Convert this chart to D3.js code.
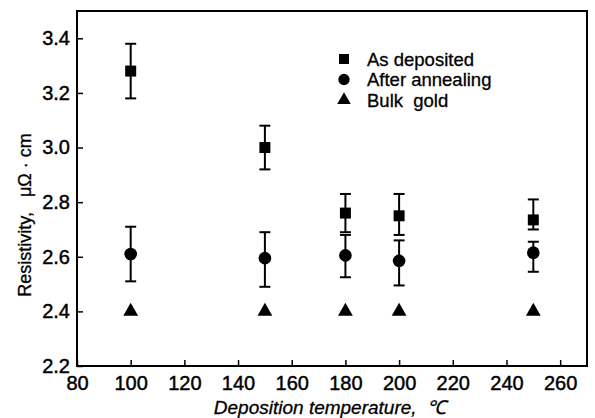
<!DOCTYPE html>
<html>
<head>
<meta charset="utf-8">
<script src="https://cdn.jsdelivr.net/npm/d3@7"></script>
<style>
  body { margin: 0; background: #fff; }
  text { font-family: "Liberation Sans", Arial, sans-serif; fill: #000; white-space: pre; }
</style>
</head>
<body>
<svg id="chart" width="595" height="418"></svg>
<script>
// data
const temps = [100, 150, 180, 200, 250];
const asDeposited = [3.28, 3.00, 2.76, 2.75, 2.735];
const asDepLow = [3.18, 2.92, 2.69, 2.68, 2.70];
const asDepHigh = [3.38, 3.08, 2.83, 2.83, 2.81];
const annealed = [2.61, 2.595, 2.605, 2.585, 2.615];
const annLow = [2.51, 2.49, 2.525, 2.495, 2.545];
const annHigh = [2.71, 2.69, 2.68, 2.66, 2.655];
const bulkGold = [2.40, 2.40, 2.40, 2.40, 2.40];
const xTicks = [80, 100, 120, 140, 160, 180, 200, 220, 240, 260];
const yTicks = [2.2, 2.4, 2.6, 2.8, 3.0, 3.2, 3.4];
const legendLabels = ["As deposited", "After annealing", "Bulk  gold"];

const margin = {left: 77, top: 11, right: 8, bottom: 52};
const W = 595, H = 418;
const svg = d3.select("#chart");

const x = d3.scaleLinear().domain([80, 270]).range([margin.left, W - margin.right]);
const y = d3.scaleLinear().domain([2.2, 3.5]).range([H - margin.bottom, margin.top]);

// frame
svg.append("rect")
  .attr("x", x(80)).attr("y", y(3.5))
  .attr("width", x(270) - x(80)).attr("height", y(2.2) - y(3.5))
  .attr("fill", "none").attr("stroke", "#000").attr("stroke-width", 2);

// axes, ticks pointing inward
const xAxis = svg.append("g")
  .attr("transform", `translate(0,${y(2.2)})`)
  .call(d3.axisBottom(x).tickValues(xTicks).tickSizeInner(-6).tickSizeOuter(0).tickPadding(10));
const yAxis = svg.append("g")
  .attr("transform", `translate(${x(80)},0)`)
  .call(d3.axisLeft(y).tickValues(yTicks).tickSizeInner(-6).tickSizeOuter(0).tickPadding(7).tickFormat(d3.format(".1f")));
[xAxis, yAxis].forEach(a => {
  a.select(".domain").remove();
  a.selectAll(".tick line").attr("stroke", "#000").attr("stroke-width", 1.5);
  a.selectAll(".tick text")
    .attr("font-size", 20)
    .attr("font-family", "Liberation Sans, Arial, sans-serif")
    .attr("fill", "#000").attr("stroke", "#000").attr("stroke-width", 0.45);
});

// error bars
function errBars(lo, hi) {
  const g = svg.append("g").attr("stroke", "#000").attr("stroke-width", 2);
  temps.forEach((t, i) => {
    g.append("line").attr("x1", x(t)).attr("x2", x(t)).attr("y1", y(lo[i])).attr("y2", y(hi[i]));
    [lo[i], hi[i]].forEach(v => {
      g.append("line").attr("x1", x(t) - 5.5).attr("x2", x(t) + 5.5).attr("y1", y(v)).attr("y2", y(v));
    });
  });
}
errBars(asDepLow, asDepHigh);
errBars(annLow, annHigh);

const sq = d3.symbol().type(d3.symbolSquare).size(121);
const ci = d3.symbol().type(d3.symbolCircle).size(125);
const tr = d3.symbol().type(d3.symbolTriangle).size(95);

function points(vals, sym) {
  svg.append("g").selectAll("path").data(vals).join("path")
    .attr("d", sym)
    .attr("transform", (d, i) => `translate(${x(temps[i])},${y(d)})`)
    .attr("fill", "#000");
}
points(asDeposited, sq);
points(annealed, ci);
points(bulkGold, tr);

// legend
const legendSyms = [
  d3.symbol().type(d3.symbolSquare).size(100),
  d3.symbol().type(d3.symbolCircle).size(100),
  d3.symbol().type(d3.symbolTriangle).size(80)
];
const legend = svg.append("g").attr("transform", "translate(344,59)");
legendSyms.forEach((s, i) => {
  legend.append("path").attr("d", s).attr("fill", "#000")
    .attr("transform", `translate(0,${i * 20.5})`);
  legend.append("text").attr("x", 23).attr("y", i * 20.5 + 6.5)
    .attr("font-size", 18.5).attr("stroke", "#000").attr("stroke-width", 0.3)
    .text(legendLabels[i]);
});

// axis titles
svg.append("text")
  .attr("x", 330).attr("y", 414)
  .attr("text-anchor", "middle").attr("font-size", 19).attr("font-style", "italic")
  .attr("stroke", "#000").attr("stroke-width", 0.3)
  .text("Deposition temperature,  \u2103");
svg.append("text")
  .attr("transform", "translate(31,215) rotate(-90)")
  .attr("text-anchor", "middle").attr("font-size", 18).attr("stroke", "#000").attr("stroke-width", 0.3)
  .text("Resistivity,   \u03bc\u03a9 \u00b7 cm");
</script>
</body>
</html>
